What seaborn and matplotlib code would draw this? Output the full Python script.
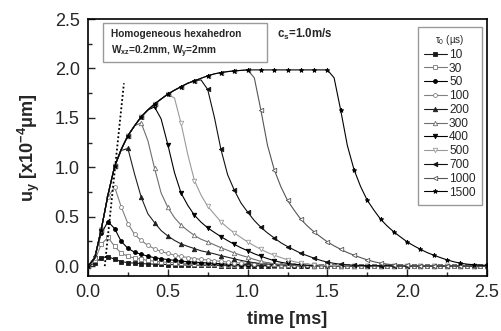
import matplotlib
matplotlib.use("Agg")
import matplotlib.pyplot as plt
from matplotlib.patches import Rectangle
import seaborn as sns

# ---------------- data ----------------
time_ms = [0, 0.042, 0.083, 0.125, 0.167, 0.208, 0.25, 0.292, 0.333, 0.375, 0.417, 0.458,
           0.5, 0.542, 0.583, 0.625, 0.667, 0.708, 0.75, 0.792, 0.833, 0.875, 0.917, 0.958,
           1.0, 1.042, 1.083, 1.125, 1.167, 1.208, 1.25, 1.292, 1.333, 1.375, 1.417, 1.458,
           1.5, 1.542, 1.583, 1.625, 1.667, 1.708, 1.75, 1.792, 1.833, 1.875, 1.917, 1.958,
           2.0, 2.042, 2.083, 2.125, 2.167, 2.208, 2.25, 2.292, 2.333, 2.375, 2.417, 2.458, 2.5]

u_10 = [0, 0.03, 0.085, 0.095, 0.07, 0.045, 0.035, 0.03, 0.026, 0.022, 0.02, 0.018,
        0.016, 0.014, 0.012, 0.011, 0.01, 0.009, 0.008, 0.007, 0.006, 0.005, 0.005, 0.004,
        0.004, 0.003, 0.003, 0.003, 0.003, 0.003, 0.003, 0.003, 0.003, 0.003, 0.003, 0.003,
        0.003, 0.002, 0.002, 0.002, 0.002, 0.002, 0.002, 0.002, 0.002, 0.002, 0.002, 0.002,
        0.002, 0.002, 0.002, 0.002, 0.002, 0.002, 0.002, 0.002, 0.002, 0.002, 0.002, 0.002, 0.002]
u_30 = [0, 0.06, 0.22, 0.29, 0.2, 0.13, 0.1, 0.08, 0.07, 0.058, 0.05, 0.043,
        0.038, 0.034, 0.03, 0.027, 0.024, 0.021, 0.019, 0.017, 0.015, 0.013, 0.011, 0.01,
        0.009, 0.008, 0.007, 0.007, 0.006, 0.006, 0.005, 0.005, 0.005, 0.004, 0.004, 0.004,
        0.004, 0.004, 0.003, 0.003, 0.003, 0.003, 0.003, 0.003, 0.003, 0.003, 0.003, 0.003,
        0.002, 0.002, 0.002, 0.002, 0.002, 0.002, 0.002, 0.002, 0.002, 0.002, 0.002, 0.002, 0.002]
u_50 = [0, 0.09, 0.33, 0.45, 0.38, 0.25, 0.18, 0.14, 0.12, 0.1, 0.085, 0.075,
        0.066, 0.058, 0.05, 0.045, 0.04, 0.036, 0.032, 0.028, 0.024, 0.02, 0.017, 0.015,
        0.013, 0.011, 0.01, 0.009, 0.008, 0.007, 0.006, 0.006, 0.005, 0.005, 0.004, 0.004,
        0.004, 0.004, 0.003, 0.003, 0.003, 0.003, 0.003, 0.003, 0.003, 0.003, 0.003, 0.003,
        0.003, 0.002, 0.002, 0.002, 0.002, 0.002, 0.002, 0.002, 0.002, 0.002, 0.002, 0.002, 0.002]
u_100 = [0, 0.08, 0.38, 0.7, 0.8, 0.6, 0.43, 0.32, 0.26, 0.21, 0.175, 0.148,
         0.128, 0.112, 0.098, 0.087, 0.077, 0.068, 0.061, 0.055, 0.048, 0.042, 0.036, 0.031,
         0.027, 0.023, 0.02, 0.017, 0.015, 0.013, 0.011, 0.01, 0.009, 0.008, 0.007, 0.006,
         0.006, 0.005, 0.005, 0.005, 0.004, 0.004, 0.004, 0.004, 0.004, 0.003, 0.003, 0.003,
         0.003, 0.003, 0.003, 0.003, 0.003, 0.003, 0.003, 0.003, 0.003, 0.003, 0.003, 0.003, 0.003]
u_200 = [0, 0.08, 0.37, 0.72, 1.01, 1.17, 1.19, 0.93, 0.7, 0.53, 0.44, 0.36,
         0.305, 0.26, 0.225, 0.2, 0.177, 0.155, 0.14, 0.124, 0.106, 0.09, 0.074, 0.058,
         0.045, 0.034, 0.026, 0.02, 0.015, 0.012, 0.01, 0.008, 0.007, 0.006, 0.005, 0.005,
         0.004, 0.004, 0.004, 0.004, 0.004, 0.003, 0.003, 0.003, 0.003, 0.003, 0.003, 0.003,
         0.003, 0.003, 0.003, 0.003, 0.003, 0.003, 0.003, 0.003, 0.003, 0.003, 0.003, 0.003, 0.003]
u_300 = [0, 0.08, 0.37, 0.72, 1.01, 1.18, 1.32, 1.42, 1.45, 1.27, 0.99, 0.74,
         0.595, 0.49, 0.415, 0.36, 0.31, 0.272, 0.245, 0.215, 0.186, 0.16, 0.133, 0.11,
         0.09, 0.068, 0.048, 0.034, 0.024, 0.017, 0.012, 0.009, 0.007, 0.006, 0.005, 0.005,
         0.005, 0.004, 0.004, 0.004, 0.004, 0.004, 0.004, 0.004, 0.004, 0.003, 0.003, 0.003,
         0.003, 0.003, 0.003, 0.003, 0.003, 0.003, 0.003, 0.003, 0.003, 0.003, 0.003, 0.003, 0.003]
u_400 = [0, 0.08, 0.37, 0.72, 1.01, 1.18, 1.32, 1.42, 1.51, 1.58, 1.61, 1.49,
         1.23, 0.945, 0.74, 0.615, 0.515, 0.445, 0.387, 0.341, 0.298, 0.258, 0.22, 0.186,
         0.156, 0.125, 0.1, 0.076, 0.055, 0.039, 0.027, 0.019, 0.013, 0.009, 0.007, 0.006,
         0.005, 0.005, 0.005, 0.004, 0.004, 0.004, 0.004, 0.004, 0.004, 0.004, 0.004, 0.003,
         0.003, 0.003, 0.003, 0.003, 0.003, 0.003, 0.003, 0.003, 0.003, 0.003, 0.003, 0.003, 0.003]
u_500 = [0, 0.08, 0.37, 0.72, 1.01, 1.18, 1.32, 1.42, 1.51, 1.58, 1.64, 1.69,
         1.74, 1.7, 1.445, 1.13, 0.865, 0.72, 0.605, 0.525, 0.448, 0.388, 0.335, 0.29,
         0.245, 0.205, 0.17, 0.137, 0.11, 0.087, 0.064, 0.045, 0.031, 0.021, 0.014, 0.009,
         0.007, 0.006, 0.005, 0.005, 0.005, 0.004, 0.004, 0.004, 0.004, 0.004, 0.004, 0.004,
         0.004, 0.003, 0.003, 0.003, 0.003, 0.003, 0.003, 0.003, 0.003, 0.003, 0.003, 0.003, 0.003]
u_700 = [0, 0.08, 0.37, 0.72, 1.01, 1.18, 1.32, 1.42, 1.51, 1.58, 1.64, 1.69,
         1.74, 1.78, 1.815, 1.85, 1.875, 1.884, 1.787, 1.505, 1.18, 0.924, 0.767, 0.64,
         0.547, 0.461, 0.393, 0.335, 0.285, 0.237, 0.198, 0.163, 0.13, 0.105, 0.08, 0.058,
         0.04, 0.028, 0.019, 0.013, 0.009, 0.007, 0.006, 0.005, 0.005, 0.005, 0.004, 0.004,
         0.004, 0.004, 0.004, 0.004, 0.004, 0.003, 0.003, 0.003, 0.003, 0.003, 0.003, 0.003, 0.003]
u_1000 = [0, 0.08, 0.37, 0.72, 1.01, 1.18, 1.32, 1.42, 1.51, 1.58, 1.64, 1.69,
          1.74, 1.78, 1.815, 1.85, 1.875, 1.9, 1.925, 1.945, 1.958, 1.968, 1.975, 1.98,
          1.985, 1.905, 1.58, 1.22, 0.975, 0.805, 0.665, 0.565, 0.475, 0.405, 0.345, 0.295,
          0.245, 0.205, 0.17, 0.137, 0.11, 0.086, 0.063, 0.044, 0.03, 0.02, 0.013, 0.009,
          0.007, 0.006, 0.005, 0.005, 0.005, 0.004, 0.004, 0.004, 0.004, 0.004, 0.004, 0.004, 0.004]
u_1500 = [0, 0.08, 0.37, 0.72, 1.01, 1.18, 1.32, 1.42, 1.51, 1.58, 1.64, 1.69,
          1.74, 1.78, 1.815, 1.85, 1.875, 1.9, 1.925, 1.945, 1.958, 1.968, 1.975, 1.98,
          1.985, 1.985, 1.985, 1.985, 1.985, 1.985, 1.985, 1.985, 1.985, 1.985, 1.985, 1.985,
          1.985, 1.905, 1.58, 1.22, 0.975, 0.805, 0.665, 0.565, 0.475, 0.405, 0.345, 0.295,
          0.245, 0.205, 0.17, 0.137, 0.11, 0.086, 0.063, 0.044, 0.03, 0.02, 0.014, 0.01, 0.008]

tau_labels = ["10", "30", "50", "100", "200", "300", "400", "500", "700", "1000", "1500"]
series = [u_10, u_30, u_50, u_100, u_200, u_300, u_400, u_500, u_700, u_1000, u_1500]

# dotted reference line
dot_t = [0.105, 0.225]
dot_u = [0.0, 1.85]

# ---------------- styles ----------------
markers = ["s", "s", "o", "o", "^", "^", "v", "v", "<", "<", "*"]
filled = [True, False, True, False, True, False, True, False, True, False, True]
line_cols = ["#1a1a1a", "#7a7a7a", "#000000", "#808080", "#202020", "#6e6e6e",
             "#000000", "#9a9a9a", "#101010", "#555555", "#000000"]
mark_every = [1, 1, 1, 1, 2, 2, 2, 2, 2, 2, 2]
msizes = [2.8, 2.8, 2.8, 2.8, 3.2, 3.2, 3.2, 3.2, 3.2, 3.2, 3.4]

sns.set_style("ticks")
plt.rcParams["font.family"] = ["Liberation Sans", "DejaVu Sans"]
plt.rcParams["mathtext.fontset"] = "custom"
plt.rcParams["mathtext.rm"] = "Liberation Sans"
plt.rcParams["mathtext.it"] = "Liberation Sans:italic"
plt.rcParams["mathtext.bf"] = "Liberation Sans:bold"

fig = plt.figure(figsize=(5.02, 3.31), dpi=100)
ax = fig.add_axes([88 / 502, 1 - 276 / 331, 399 / 502, 257 / 331])

for lab, vals, mk, fl, lc, me, ms in zip(tau_labels, series, markers, filled,
                                          line_cols, mark_every, msizes):
    sns.lineplot(x=time_ms, y=vals, ax=ax, sort=False, estimator=None, errorbar=None,
                 color=lc, linewidth=0.8, marker=mk, markersize=ms, markevery=me,
                 markerfacecolor=(lc if fl else "white"),
                 markeredgecolor=lc, markeredgewidth=0.6, label=lab)

sns.lineplot(x=dot_t, y=dot_u, ax=ax, sort=False, estimator=None, errorbar=None,
             color="black", linewidth=1.3, linestyle=(0, (1, 1.3)))

ax.set_xlim(0, 2.5)
ax.set_ylim(-0.1, 2.5)
ax.set_xticks([0, 0.5, 1.0, 1.5, 2.0, 2.5])
ax.set_xticks([0.25, 0.75, 1.25, 1.75, 2.25], minor=True)
ax.set_yticks([0, 0.5, 1.0, 1.5, 2.0, 2.5])
ax.set_yticks([0.25, 0.75, 1.25, 1.75, 2.25], minor=True)
ax.set_xticklabels(["0.0", "0.5", "1.0", "1.5", "2.0", "2.5"])
ax.set_yticklabels(["0.0", "0.5", "1.0", "1.5", "2.0", "2.5"])
ax.tick_params(axis="both", which="major", direction="in", length=5, width=1,
               labelsize=13, pad=6)
ax.tick_params(axis="both", which="minor", direction="in", length=3, width=1)
for sp in ax.spines.values():
    sp.set_visible(True)
    sp.set_linewidth(1.2)
    sp.set_color("black")

ax.set_xlabel("time [ms]", fontsize=13, fontweight="bold", labelpad=7)
ax.set_ylabel(r"u$_\mathbf{y}$ [x10$^{\mathbf{-4}}$$\mathbf{\mu}$m]", fontsize=13,
              fontweight="bold", labelpad=9)

# annotation box
ax.add_patch(Rectangle((0.038, 0.833), 0.411, 0.151, transform=ax.transAxes,
                       facecolor="white", edgecolor="#9a9a9a", linewidth=1.0, zorder=5))
ax.text(0.058, 0.942, "Homogeneous hexahedron", transform=ax.transAxes,
        fontsize=7.3, fontweight="bold", va="center", ha="left", zorder=6)
ax.text(0.058, 0.872, r"W$_\mathbf{xz}$=0.2mm, W$_\mathbf{y}$=2mm", transform=ax.transAxes,
        fontsize=7.3, fontweight="bold", va="center", ha="left", zorder=6)
ax.text(0.474, 0.938, r"c$_\mathbf{s}$=1.0m/s", transform=ax.transAxes,
        fontsize=8.3, fontweight="bold", va="center", ha="left", zorder=6)

handles, labels = ax.get_legend_handles_labels()
leg = ax.legend(handles[:11], labels[:11], loc="upper left",
                bbox_to_anchor=(0.827, 0.969), borderaxespad=0,
                title="τ$_0$ (µs)", title_fontsize=7, fontsize=8.6,
                handlelength=1.9, handletextpad=0.2, labelspacing=0.15,
                borderpad=0.5, fancybox=False, framealpha=1, edgecolor="#9a9a9a")
leg.get_frame().set_linewidth(1.0)
leg.set_zorder(10)

fig.savefig("out.png", dpi=100)
